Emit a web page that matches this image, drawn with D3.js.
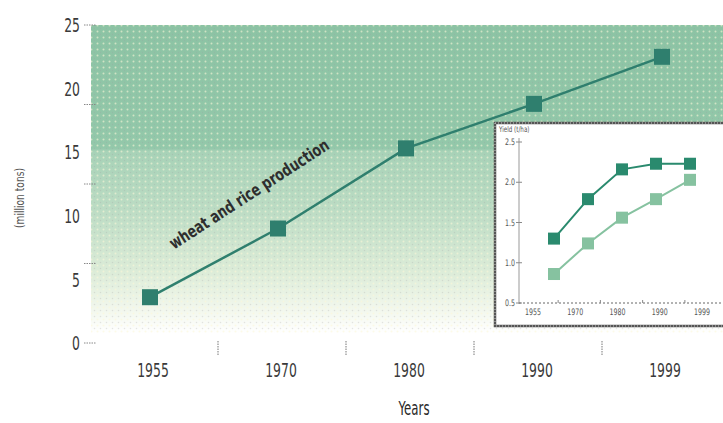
<!DOCTYPE html>
<html>
<head>
<meta charset="utf-8">
<script src="https://cdn.jsdelivr.net/npm/d3@7/dist/d3.min.js"></script>
<style>
  html, body { margin: 0; padding: 0; background: #fff; }
  svg { display: block; }
  text { font-family: "DejaVu Sans", sans-serif; }
</style>
</head>
<body>
<svg id="chart" width="723" height="423"></svg>
<script>
// Wheat and rice production (million tons)
const years = ["1955", "1970", "1980", "1990", "1999"];
const production = [3.6, 9.0, 15.3, 18.8, 22.5];
const yTicks = [0, 5, 10, 15, 20, 25];
const yMinorTicks = [0, 6.25, 12.5, 18.75, 25];

// Yield (t/ha), two series shown in the inset
const yieldHigh = [1.3, 1.79, 2.16, 2.23, 2.23];
const yieldLow = [0.86, 1.24, 1.56, 1.79, 2.03];
const insetTicks = [0.5, 1.0, 1.5, 2.0, 2.5];

const svg = d3.select("#chart");
const labelColor = "#3a3a3a";
const lineColor = "#2f7f6e";

// condensed text: a group placed at (x, y) and squeezed horizontally
function ctext(parent, x, y, str, opts) {
  const o = Object.assign({ size: 12, sx: 0.62, anchor: "middle", fill: labelColor, weight: "normal", rotate: 0, dy: "0" }, opts);
  const g = parent.append("g")
    .attr("transform", `translate(${x},${y}) rotate(${o.rotate}) scale(${o.sx},1)`);
  g.append("text")
    .attr("text-anchor", o.anchor).attr("dy", o.dy)
    .attr("font-size", o.size).attr("font-weight", o.weight).attr("fill", o.fill)
    .text(str);
  return g;
}

// ---- main chart scales
const x = d3.scalePoint().domain(years).range([150, 662]);
const xLabel = d3.scalePoint().domain(years).range([153, 665]);
const y = d3.scaleLinear().domain([0, 25]).range([343, 25]);

// background shading: solid green above 15, fading to white below
const defs = svg.append("defs");
const grad = defs.append("linearGradient")
  .attr("id", "bg").attr("x1", 0).attr("y1", 0).attr("x2", 0).attr("y2", 1);
[
  [0, "#8cc3a4"], [0.4, "#93c8aa"], [0.41, "#a7d2b7"], [0.6, "#bcdcc4"],
  [0.8, "#dcecd8"], [0.93, "#f3f8ee"], [1, "#ffffff"]
].forEach(([o, c]) => grad.append("stop").attr("offset", o).attr("stop-color", c));

const dots = defs.append("pattern").attr("id", "dots")
  .attr("width", 6).attr("height", 6).attr("patternUnits", "userSpaceOnUse");
dots.append("circle").attr("cx", 1.5).attr("cy", 1.5).attr("r", 1).attr("fill", "#fbf6d8").attr("opacity", 0.6);
dots.append("circle").attr("cx", 4.5).attr("cy", 4.5).attr("r", 0.8).attr("fill", "#9a9aa0").attr("opacity", 0.25);

const bgTop = y(25), bgBottom = 333;
svg.append("rect").attr("x", 91).attr("y", bgTop).attr("width", 723 - 91).attr("height", bgBottom - bgTop)
  .attr("fill", "url(#bg)");
svg.append("rect").attr("x", 91).attr("y", bgTop).attr("width", 723 - 91).attr("height", bgBottom - bgTop)
  .attr("fill", "url(#dots)");

// y axis: labels and offset minor ticks
const yAxisG = svg.append("g");
yTicks.forEach(d => ctext(yAxisG, 80, y(d), d, { size: 20, anchor: "end", dy: "0.36em" }));
svg.append("g").selectAll("line").data(yMinorTicks).join("line")
  .attr("x1", 84).attr("x2", 96).attr("y1", d => y(d)).attr("y2", d => y(d))
  .attr("stroke", "#888").attr("stroke-width", 1).attr("stroke-dasharray", "1.5,1");

// x axis: category labels and ticks between categories
const xAxisG = svg.append("g");
years.forEach(d => ctext(xAxisG, xLabel(d), 377, d, { size: 20 }));
const between = years.slice(1).map((d, i) => (x(years[i]) + x(d)) / 2 + 4);
svg.append("g").selectAll("line").data(between).join("line")
  .attr("x1", d => d).attr("x2", d => d).attr("y1", 341).attr("y2", 355)
  .attr("stroke", "#777").attr("stroke-width", 1).attr("stroke-dasharray", "1.5,1");

ctext(svg, 414, 415, "Years", { size: 19, fill: "#2a2a2a" });
ctext(svg, 24, 198, "(million tons)", { size: 13, fill: "#555", rotate: -90, sx: 0.7 });

// production line
const line = d3.line().x((d, i) => x(years[i])).y(d => y(d));
svg.append("path").datum(production).attr("d", line)
  .attr("fill", "none").attr("stroke", lineColor).attr("stroke-width", 2.5);
svg.append("g").selectAll("rect").data(production).join("rect")
  .attr("x", (d, i) => x(years[i]) - 8).attr("y", d => y(d) - 8)
  .attr("width", 16).attr("height", 16)
  .attr("fill", lineColor);

ctext(svg, 249, 194, "wheat and rice production",
  { size: 17, weight: "bold", fill: "#2e2e2e", rotate: -33, sx: 0.74, dy: "0.35em" });

// ---- inset: yield
const inset = svg.append("g");
inset.append("rect").attr("x", 495).attr("y", 123).attr("width", 240).attr("height", 203)
  .attr("fill", "#fff").attr("stroke", "#555").attr("stroke-width", 2.5);
inset.append("rect").attr("x", 495).attr("y", 123).attr("width", 240).attr("height", 203)
  .attr("fill", "none").attr("stroke", "#ccc").attr("stroke-width", 1).attr("stroke-dasharray", "1,2");

const ix = d3.scalePoint().domain(years).range([554, 690]);
const ixLabel = d3.scalePoint().domain(years).range([533, 702]);
const iy = d3.scaleLinear().domain([0.5, 2.5]).range([303, 142]);

inset.append("line").attr("x1", 519).attr("x2", 519).attr("y1", 138).attr("y2", 304)
  .attr("stroke", "#999").attr("stroke-width", 1);
inset.append("line").attr("x1", 519).attr("x2", 723).attr("y1", 303).attr("y2", 303)
  .attr("stroke", "#666").attr("stroke-width", 1).attr("stroke-dasharray", "2,2");
inset.append("g").selectAll("line").data(insetTicks).join("line")
  .attr("x1", 516).attr("x2", 522).attr("y1", d => iy(d)).attr("y2", d => iy(d))
  .attr("stroke", "#888");
insetTicks.forEach(d => ctext(inset, 515, iy(d), d3.format(".1f")(d),
  { size: 9, anchor: "end", dy: "0.36em", fill: "#555", sx: 0.7 }));
const ibetween = years.slice(1).map((d, i) => (ixLabel(years[i]) + ixLabel(d)) / 2 + 4);
inset.append("g").selectAll("line").data(ibetween).join("line")
  .attr("x1", d => d).attr("x2", d => d).attr("y1", 300).attr("y2", 303)
  .attr("stroke", "#888");
years.forEach(d => ctext(inset, ixLabel(d), 315, d, { size: 9, fill: "#555", sx: 0.7 }));
ctext(inset, 499, 132, "Yield (t/ha)", { size: 8, anchor: "start", fill: "#555", sx: 0.7 });

const iline = d3.line().x((d, i) => ix(years[i])).y(d => iy(d));
[[yieldLow, "#86c2a0"], [yieldHigh, "#2a8a6e"]].forEach(([vals, col]) => {
  inset.append("path").datum(vals).attr("d", iline)
    .attr("fill", "none").attr("stroke", col).attr("stroke-width", 2);
  inset.append("g").selectAll("rect").data(vals).join("rect")
    .attr("x", (d, i) => ix(years[i]) - 6).attr("y", d => iy(d) - 6)
    .attr("width", 12).attr("height", 12)
    .attr("fill", col);
});
</script>
</body>
</html>
